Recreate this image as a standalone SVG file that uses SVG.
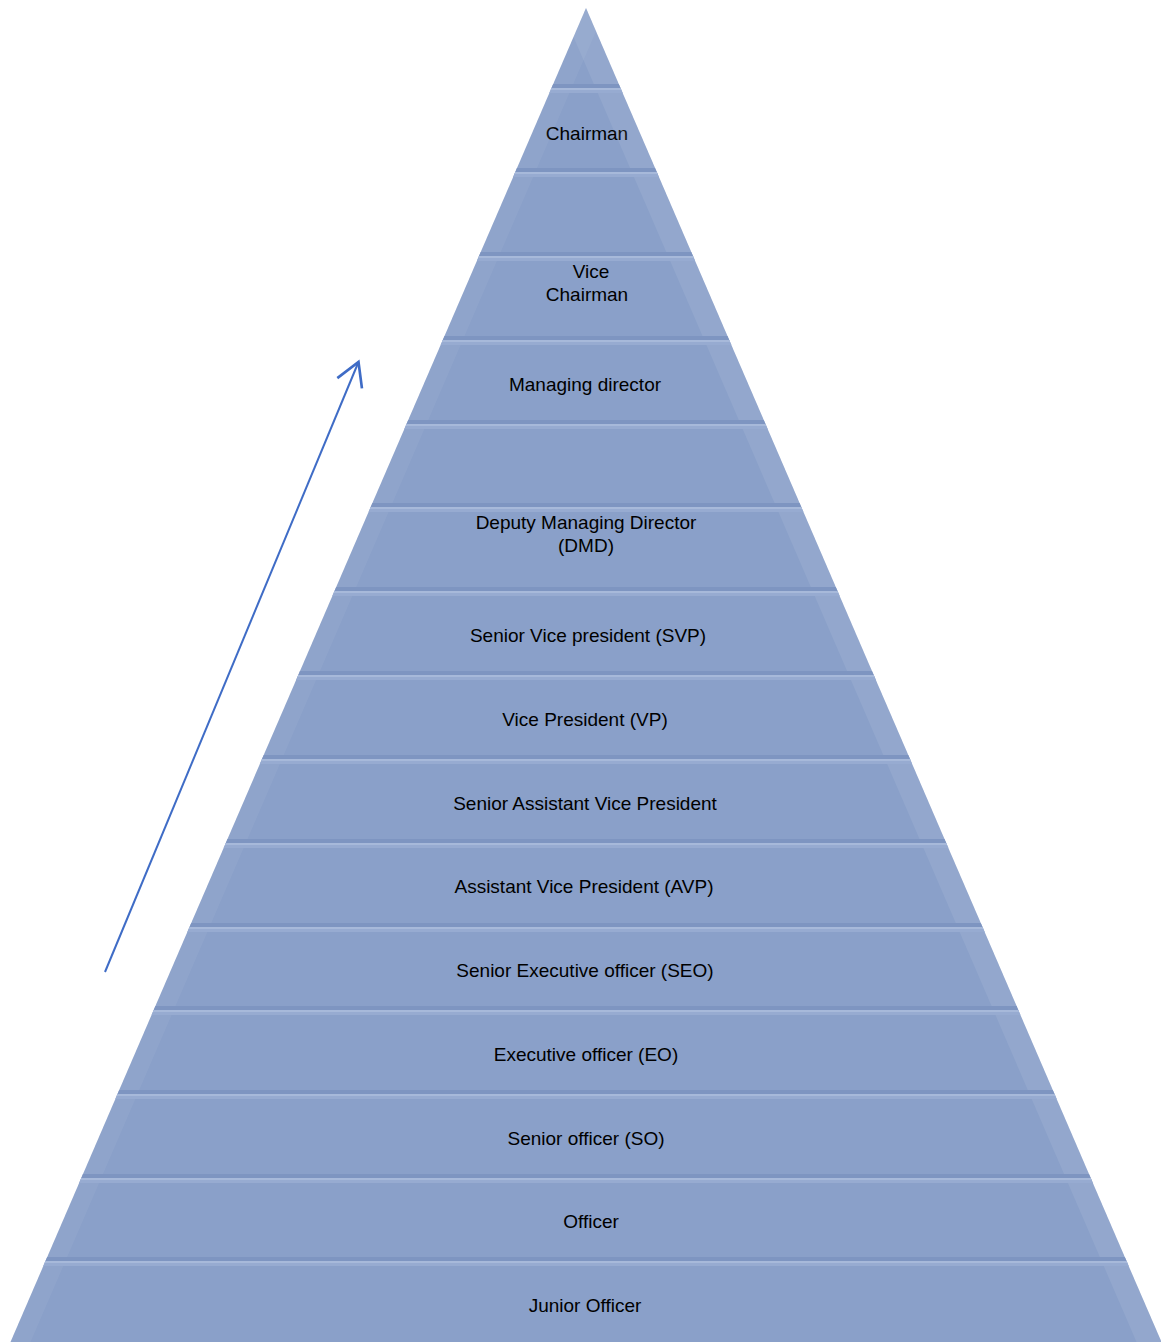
<svg xmlns="http://www.w3.org/2000/svg" width="1161" height="1342" viewBox="0 0 1161 1342">
<defs>
<style>
.band{fill:#8aa0c9}
.hl{fill:#a7b9da}
.hl2{fill:#97abd1}
.sh{fill:#7e95c1}
.lbl{font-family:"Liberation Sans",Arial,sans-serif;font-size:19px;fill:#000;text-anchor:middle}
.arrow{stroke:#3f6cc6;stroke-width:2;fill:none}
</style>
<clipPath id="tri"><polygon points="586,8 1161.5,1342 10.5,1342"/></clipPath>
<marker id="ah" markerUnits="userSpaceOnUse" markerWidth="40" markerHeight="40" refX="0" refY="0" viewBox="-25 -15 30 30" orient="auto" overflow="visible">
<path d="M-17.3,-10 L0,0 L-17.3,10" stroke="#3f6cc6" stroke-width="2" fill="none"/>
</marker>
</defs>
<rect width="1161" height="1342" fill="#fff"/>
<g id="pyramid">
<g id="band0"><polygon class="band" points="586,8 620.5,88 551.5,88"/></g>
<g id="band1"><polygon class="band" points="551.5,88 620.5,88 656.8,172 515.3,172"/><text class="lbl" x="587" y="140">Chairman</text></g>
<g id="band2"><polygon class="band" points="515.3,172 656.8,172 693,256 479,256"/></g>
<g id="band3"><polygon class="band" points="479,256 693,256 729.2,340 442.8,340"/><text class="lbl" x="591" y="278">Vice</text><text class="lbl" x="587" y="301">Chairman</text></g>
<g id="band4"><polygon class="band" points="442.8,340 729.2,340 765.5,424 406.5,424"/><text class="lbl" x="585" y="391">Managing director</text></g>
<g id="band5"><polygon class="band" points="406.5,424 765.5,424 801.3,507 370.7,507"/></g>
<g id="band6"><polygon class="band" points="370.7,507 801.3,507 837.5,591 334.5,591"/><text class="lbl" x="586" y="529">Deputy Managing Director</text><text class="lbl" x="586" y="552">(DMD)</text></g>
<g id="band7"><polygon class="band" points="334.5,591 837.5,591 873.7,675 298.3,675"/><text class="lbl" x="588" y="642">Senior Vice president (SVP)</text></g>
<g id="band8"><polygon class="band" points="298.3,675 873.7,675 910,759 262,759"/><text class="lbl" x="585" y="726">Vice President (VP)</text></g>
<g id="band9"><polygon class="band" points="262,759 910,759 946.2,843 225.8,843"/><text class="lbl" x="585" y="810">Senior Assistant Vice President</text></g>
<g id="band10"><polygon class="band" points="225.8,843 946.2,843 982.5,927 189.5,927"/><text class="lbl" x="584" y="893">Assistant Vice President (AVP)</text></g>
<g id="band11"><polygon class="band" points="189.5,927 982.5,927 1018.3,1010 153.7,1010"/><text class="lbl" x="585" y="977">Senior Executive officer (SEO)</text></g>
<g id="band12"><polygon class="band" points="153.7,1010 1018.3,1010 1054.5,1094 117.5,1094"/><text class="lbl" x="586" y="1061">Executive officer (EO)</text></g>
<g id="band13"><polygon class="band" points="117.5,1094 1054.5,1094 1090.7,1178 81.3,1178"/><text class="lbl" x="586" y="1145">Senior officer (SO)</text></g>
<g id="band14"><polygon class="band" points="81.3,1178 1090.7,1178 1126.5,1261 45.5,1261"/><text class="lbl" x="591" y="1228">Officer</text></g>
<g id="band15"><polygon class="band" points="45.5,1261 1126.5,1261 1161.5,1342 10.5,1342"/><text class="lbl" x="585" y="1312">Junior Officer</text></g>
</g>
<g id="bevels" clip-path="url(#tri)">
<polygon points="586,8 10.5,1342 30.5,1342 606,8" fill="#fff" opacity="0.05"/>
<polygon points="586,8 1161.5,1342 1136.5,1342 561,8" fill="#fff" opacity="0.08"/>
<g class="sh">
<rect x="0" y="84" width="1161" height="4"/><rect x="0" y="168" width="1161" height="4"/><rect x="0" y="252" width="1161" height="4"/><rect x="0" y="336" width="1161" height="4"/><rect x="0" y="420" width="1161" height="4"/><rect x="0" y="503" width="1161" height="4"/><rect x="0" y="587" width="1161" height="4"/><rect x="0" y="671" width="1161" height="4"/><rect x="0" y="755" width="1161" height="4"/><rect x="0" y="839" width="1161" height="4"/><rect x="0" y="923" width="1161" height="4"/><rect x="0" y="1006" width="1161" height="4"/><rect x="0" y="1090" width="1161" height="4"/><rect x="0" y="1174" width="1161" height="4"/><rect x="0" y="1257" width="1161" height="4"/>
</g>
<g class="hl2">
<rect x="0" y="88" width="1161" height="5"/><rect x="0" y="172" width="1161" height="5"/><rect x="0" y="256" width="1161" height="5"/><rect x="0" y="340" width="1161" height="5"/><rect x="0" y="424" width="1161" height="5"/><rect x="0" y="507" width="1161" height="5"/><rect x="0" y="591" width="1161" height="5"/><rect x="0" y="675" width="1161" height="5"/><rect x="0" y="759" width="1161" height="5"/><rect x="0" y="843" width="1161" height="5"/><rect x="0" y="927" width="1161" height="5"/><rect x="0" y="1010" width="1161" height="5"/><rect x="0" y="1094" width="1161" height="5"/><rect x="0" y="1178" width="1161" height="5"/><rect x="0" y="1261" width="1161" height="5"/>
</g>
<g class="hl">
<rect x="0" y="88" width="1161" height="2"/><rect x="0" y="172" width="1161" height="2"/><rect x="0" y="256" width="1161" height="2"/><rect x="0" y="340" width="1161" height="2"/><rect x="0" y="424" width="1161" height="2"/><rect x="0" y="507" width="1161" height="2"/><rect x="0" y="591" width="1161" height="2"/><rect x="0" y="675" width="1161" height="2"/><rect x="0" y="759" width="1161" height="2"/><rect x="0" y="843" width="1161" height="2"/><rect x="0" y="927" width="1161" height="2"/><rect x="0" y="1010" width="1161" height="2"/><rect x="0" y="1094" width="1161" height="2"/><rect x="0" y="1178" width="1161" height="2"/><rect x="0" y="1261" width="1161" height="2"/>
</g>
</g>
<g id="connectors">
<line class="arrow" x1="105" y1="972" x2="358.5" y2="362" marker-end="url(#ah)"/>
</g>
</svg>
